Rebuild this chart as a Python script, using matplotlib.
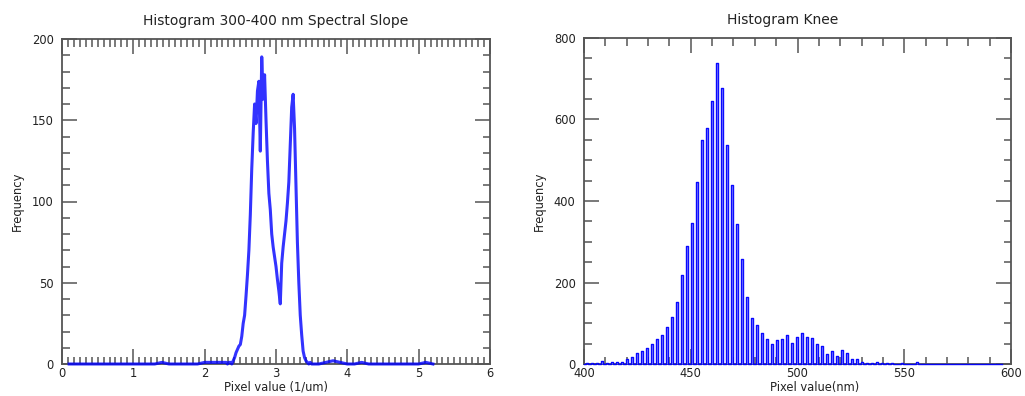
import numpy as np
import matplotlib
matplotlib.use("Agg")
import matplotlib.pyplot as plt
from matplotlib.ticker import MultipleLocator

# ---------------- data: left panel (spectral slope histogram) ----------------
slope_tail_lo_x = [0.1, 0.2, 0.3, 0.4, 0.5, 0.6, 0.7, 0.8, 0.9, 1.0, 1.1,
                   1.2, 1.3, 1.4, 1.5, 1.6, 1.7, 1.8, 1.9, 2.0, 2.1, 2.2]
slope_tail_lo_y = [0, 0, 0, 0, 0, 0, 0, 0, 0, 0, 0,
                   0, 0, 1, 0, 0, 0, 0, 0, 1, 1, 1]
slope_main_x = [round(2.30 + 0.02 * i, 2) for i in range(61)]
slope_main_y = [1, 0, 1, 1, 0, 2, 4, 7, 9, 11,
                12, 17, 25, 30, 42, 55, 70, 92, 120, 142,
                160, 148, 168, 174, 131, 189, 163, 178, 150, 125,
                105, 95, 80, 72, 66, 60, 52, 45, 37, 62,
                72, 80, 88, 99, 112, 135, 158, 166, 145, 110,
                75, 50, 30, 18, 8, 4, 2, 1, 0, 1,
                0]
slope_tail_hi_x = [3.6, 3.7, 3.8, 3.9, 4.0, 4.1, 4.2, 4.3, 4.4, 4.5,
                   4.6, 4.7, 4.8, 4.9, 5.0, 5.1, 5.2]
slope_tail_hi_y = [0, 1, 2, 1, 0, 0, 1, 0, 0, 0,
                   0, 0, 0, 0, 0, 1, 0]

# ---------------- data: right panel (knee histogram) ----------------
knee_counts = [2, 2, 3, 8, 3, 4, 5, 6, 13, 16,
               28, 31, 39, 48, 62, 72, 90, 116, 153, 218,
               290, 347, 447, 549, 579, 646, 739, 678, 537, 439,
               343, 257, 164, 112, 96, 75, 61, 50, 58, 61,
               70, 51, 66, 75, 67, 65, 48, 43, 25, 33,
               20, 34, 26, 12, 12, 6, 2, 3, 4, 2,
               3, 2, 1, 2, 1, 0, 4, 1, 0]
knee_start_nm = 401.3      # first sampled wavelength
knee_step_nm = 2.342       # wavelength sampling
knee_nm = [knee_start_nm + knee_step_nm * i for i in range(len(knee_counts))]
knee_bin = 1.0             # histogram bin size (nm)
knee_range = (400.0, 596.0)

left_title = "Histogram 300-400 nm Spectral Slope"
right_title = "Histogram Knee"
left_xlabel = "Pixel value (1/um)"
right_xlabel = "Pixel value(nm)"
ylabel = "Frequency"

# ---------------- figure ----------------
W, H = 1025, 396
fig = plt.figure(figsize=(W / 100, H / 100), dpi=100)
plt.rcParams["font.family"] = ["DejaVu Sans"]

line_blue = "#0000ff"
frame_c = "#555555"
text_c = "#222222"


def px_axes(x0, x1, ytop, ybot):
    return fig.add_axes([x0 / W, (H - ybot) / H, (x1 - x0) / W, (ybot - ytop) / H])


def style(ax):
    for s in ax.spines.values():
        s.set_color(frame_c)
        s.set_linewidth(1.3)
    ax.tick_params(which="both", direction="in", top=True, right=True,
                   colors=frame_c, labelcolor=text_c, labelsize=8.3, width=1.1)
    ax.tick_params(which="major", length=10.8)
    ax.tick_params(which="minor", length=5.4)
    ax.tick_params(axis="x", which="major", pad=2.5)
    ax.tick_params(axis="y", which="major", pad=6)


# left panel
axL = px_axes(62, 490, 39, 364)
xs = slope_tail_lo_x + slope_main_x + slope_tail_hi_x
ys = slope_tail_lo_y + slope_main_y + slope_tail_hi_y
axL.plot(xs, ys, color=line_blue, lw=2.2, alpha=0.8,
         zorder=3, clip_on=False)
axL.set_xlim(0, 6)
axL.set_ylim(0, 200)
axL.xaxis.set_major_locator(MultipleLocator(1))
axL.xaxis.set_minor_locator(MultipleLocator(1 / 12))
axL.yaxis.set_major_locator(MultipleLocator(50))
axL.yaxis.set_minor_locator(MultipleLocator(10))
style(axL)
axL.set_title(left_title, fontsize=10, color=text_c, pad=10)
axL.set_xlabel(left_xlabel, fontsize=8.3, color=text_c)
axL.xaxis.set_label_coords(0.5, -0.052)
axL.set_ylabel(ylabel, fontsize=8.3, color=text_c, labelpad=6)

# right panel
axR = px_axes(584, 1011, 38, 364)
hx = [knee_range[0]]
hy = [0]
for c, h in zip(knee_nm, knee_counts):
    hx += [c - knee_bin / 2, c - knee_bin / 2, c + knee_bin / 2, c + knee_bin / 2]
    hy += [0, h, h, 0]
hx.append(knee_range[1])
hy.append(0)
axR.fill(hx, hy, color="#9a9aff", lw=0, zorder=2.6)
axR.plot(hx, hy, color=line_blue, lw=1.0, alpha=0.95, zorder=3, clip_on=False)
axR.set_xlim(400, 600)
axR.set_ylim(0, 800)
axR.xaxis.set_major_locator(MultipleLocator(50))
axR.xaxis.set_minor_locator(MultipleLocator(10))
axR.yaxis.set_major_locator(MultipleLocator(200))
axR.yaxis.set_minor_locator(MultipleLocator(50))
style(axR)
axR.set_title(right_title, fontsize=10, color=text_c, pad=10, x=0.466)
axR.set_xlabel(right_xlabel, fontsize=8.3, color=text_c)
axR.xaxis.set_label_coords(0.54, -0.052)
axR.set_ylabel(ylabel, fontsize=8.3, color=text_c, labelpad=6)

fig.savefig("out.png", dpi=100)
